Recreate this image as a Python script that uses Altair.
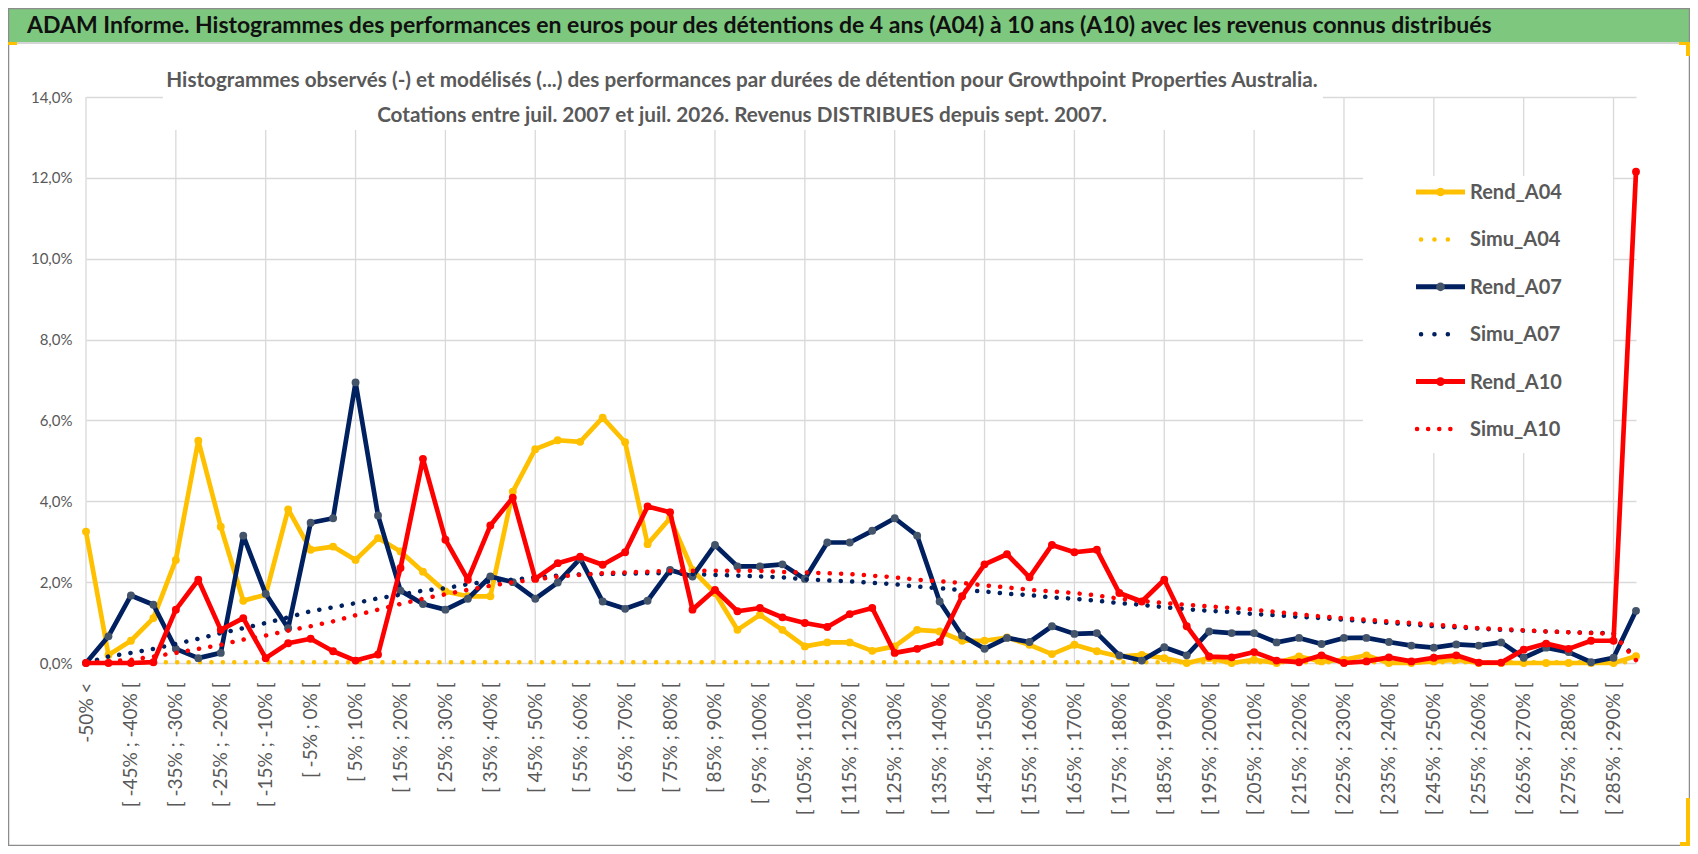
import altair as alt
import pandas as pd

FONT = "Lato"

TITLE = ("ADAM Informe. Histogrammes des performances en euros pour des détentions de 4 ans (A04) "
         "à 10 ans (A10) avec les revenus connus distribués")
SUBTITLE = [
    "Histogrammes observés (-) et modélisés (...) des performances par durées de détention pour Growthpoint Properties Australia.",
    "Cotations entre juil. 2007 et juil. 2026. Revenus DISTRIBUES depuis sept. 2007.",
]

categories = [
    "-50% <",
    "[ -50% ; -45% [", "[ -45% ; -40% [", "[ -40% ; -35% [", "[ -35% ; -30% [",
    "[ -30% ; -25% [", "[ -25% ; -20% [", "[ -20% ; -15% [", "[ -15% ; -10% [",
    "[ -10% ; -5% [", "[ -5% ; 0% [", "[ 0% ; 5% [", "[ 5% ; 10% [",
    "[ 10% ; 15% [", "[ 15% ; 20% [", "[ 20% ; 25% [", "[ 25% ; 30% [",
    "[ 30% ; 35% [", "[ 35% ; 40% [", "[ 40% ; 45% [", "[ 45% ; 50% [",
    "[ 50% ; 55% [", "[ 55% ; 60% [", "[ 60% ; 65% [", "[ 65% ; 70% [",
    "[ 70% ; 75% [", "[ 75% ; 80% [", "[ 80% ; 85% [", "[ 85% ; 90% [",
    "[ 90% ; 95% [", "[ 95% ; 100% [", "[ 100% ; 105% [", "[ 105% ; 110% [",
    "[ 110% ; 115% [", "[ 115% ; 120% [", "[ 120% ; 125% [", "[ 125% ; 130% [",
    "[ 130% ; 135% [", "[ 135% ; 140% [", "[ 140% ; 145% [", "[ 145% ; 150% [",
    "[ 150% ; 155% [", "[ 155% ; 160% [", "[ 160% ; 165% [", "[ 165% ; 170% [",
    "[ 170% ; 175% [", "[ 175% ; 180% [", "[ 180% ; 185% [", "[ 185% ; 190% [",
    "[ 190% ; 195% [", "[ 195% ; 200% [", "[ 200% ; 205% [", "[ 205% ; 210% [",
    "[ 210% ; 215% [", "[ 215% ; 220% [", "[ 220% ; 225% [", "[ 225% ; 230% [",
    "[ 230% ; 235% [", "[ 235% ; 240% [", "[ 240% ; 245% [", "[ 245% ; 250% [",
    "[ 250% ; 255% [", "[ 255% ; 260% [", "[ 260% ; 265% [", "[ 265% ; 270% [",
    "[ 270% ; 275% [", "[ 275% ; 280% [", "[ 280% ; 285% [", "[ 285% ; 290% [",
    "> 290%",
]

rend_a04 = [3.25, 0.20, 0.55, 1.11, 2.55, 5.50, 3.37, 1.54, 1.69, 3.80,
            2.80, 2.88, 2.55, 3.09, 2.76, 2.26, 1.77, 1.65, 1.65, 4.24,
            5.29, 5.51, 5.47, 6.07, 5.46, 2.94, 3.58, 2.30, 1.73, 0.82,
            1.19, 0.82, 0.41, 0.51, 0.51, 0.30, 0.41, 0.82, 0.78, 0.55,
            0.55, 0.63, 0.45, 0.22, 0.45, 0.29, 0.16, 0.20, 0.12, 0.00,
            0.12, 0.00, 0.08, 0.00, 0.16, 0.04, 0.08, 0.19, 0.00, 0.00,
            0.04, 0.08, 0.00, 0.00, 0.00, 0.00, 0.00, 0.00, 0.00, 0.17]
simu_a04 = [0.02, 0.02, 0.02, 0.02, 0.02, 0.02, 0.02, 0.02, 0.02, 0.02,
            0.02, 0.02, 0.02, 0.02, 0.02, 0.02, 0.02, 0.02, 0.02, 0.02,
            0.02, 0.02, 0.02, 0.02, 0.02, 0.02, 0.02, 0.02, 0.02, 0.02,
            0.02, 0.02, 0.02, 0.02, 0.02, 0.02, 0.02, 0.02, 0.02, 0.02,
            0.02, 0.02, 0.02, 0.02, 0.02, 0.02, 0.02, 0.02, 0.02, 0.02,
            0.02, 0.02, 0.02, 0.02, 0.02, 0.02, 0.02, 0.02, 0.02, 0.02,
            0.02, 0.02, 0.02, 0.02, 0.02, 0.02, 0.02, 0.02, 0.02, 0.02]
rend_a07 = [0.00, 0.66, 1.67, 1.44, 0.35, 0.12, 0.25, 3.15, 1.71, 0.86,
            3.47, 3.58, 6.94, 3.65, 1.79, 1.46, 1.32, 1.59, 2.14, 2.00,
            1.59, 1.99, 2.58, 1.52, 1.34, 1.54, 2.30, 2.14, 2.92, 2.39,
            2.39, 2.44, 2.08, 2.98, 2.98, 3.27, 3.58, 3.15, 1.52, 0.68,
            0.35, 0.62, 0.52, 0.91, 0.72, 0.74, 0.19, 0.06, 0.39, 0.19,
            0.78, 0.74, 0.74, 0.51, 0.62, 0.47, 0.62, 0.62, 0.52, 0.43,
            0.38, 0.46, 0.43, 0.51, 0.13, 0.38, 0.27, 0.02, 0.13, 1.29]
simu_a07 = [0.00, 0.16, 0.25, 0.35, 0.47, 0.60, 0.74, 0.86, 0.99, 1.13,
            1.28, 1.38, 1.48, 1.60, 1.69, 1.79, 1.85, 1.95, 2.02, 2.06,
            2.12, 2.16, 2.19, 2.20, 2.21, 2.22, 2.22, 2.20, 2.18, 2.16,
            2.14, 2.12, 2.07, 2.04, 2.02, 1.98, 1.95, 1.89, 1.85, 1.80,
            1.77, 1.71, 1.68, 1.62, 1.59, 1.54, 1.48, 1.44, 1.38, 1.33,
            1.29, 1.26, 1.21, 1.18, 1.14, 1.11, 1.07, 1.03, 0.99, 0.95,
            0.91, 0.88, 0.85, 0.82, 0.80, 0.78, 0.76, 0.75, 0.74, 0.10]
rend_a10 = [0.00, 0.00, 0.00, 0.02, 1.32, 2.06, 0.82, 1.11, 0.12, 0.49,
            0.60, 0.29, 0.06, 0.21, 2.35, 5.05, 3.05, 2.06, 3.40, 4.09,
            2.08, 2.47, 2.63, 2.43, 2.74, 3.87, 3.73, 1.32, 1.81, 1.28,
            1.36, 1.13, 0.99, 0.89, 1.21, 1.36, 0.25, 0.35, 0.52, 1.65,
            2.44, 2.69, 2.12, 2.92, 2.74, 2.80, 1.73, 1.52, 2.06, 0.91,
            0.16, 0.14, 0.27, 0.06, 0.02, 0.19, 0.00, 0.04, 0.14, 0.04,
            0.13, 0.19, 0.01, 0.01, 0.33, 0.48, 0.35, 0.55, 0.55, 12.15]
simu_a10 = [0.00, 0.04, 0.08, 0.16, 0.25, 0.35, 0.45, 0.58, 0.68, 0.80,
            0.91, 1.03, 1.18, 1.32, 1.46, 1.59, 1.70, 1.81, 1.91, 2.00,
            2.06, 2.14, 2.18, 2.22, 2.24, 2.26, 2.28, 2.28, 2.28, 2.28,
            2.28, 2.25, 2.24, 2.22, 2.20, 2.16, 2.12, 2.06, 2.02, 1.98,
            1.92, 1.87, 1.81, 1.77, 1.73, 1.67, 1.59, 1.54, 1.48, 1.44,
            1.40, 1.36, 1.32, 1.26, 1.21, 1.15, 1.11, 1.07, 1.03, 0.99,
            0.95, 0.91, 0.86, 0.84, 0.81, 0.78, 0.76, 0.74, 0.72, 0.07]

series_names = ["Rend_A04", "Simu_A04", "Rend_A07", "Simu_A07", "Rend_A10", "Simu_A10"]
series_values = [rend_a04, simu_a04, rend_a07, simu_a07, rend_a10, simu_a10]
line_colors = ["#FFC000", "#FFC000", "#002060", "#002060", "#FF0000", "#FF0000"]
marker_colors = ["#FFC000", "#FFC000", "#44546A", "#002060", "#FF0000", "#FF0000"]
y_ticks = [0, 2, 4, 6, 8, 10, 12, 14]

rows = []
for name, vals in zip(series_names, series_values):
    for cat, v in zip(categories, vals):
        rows.append({"cat": cat, "series": name, "value": v})
df = pd.DataFrame(rows)

W, H = 1550, 566
GRID = "#d9d9d9"
TXT = "#595959"

x_enc = alt.X(
    "cat:N", sort=categories,
    scale=alt.Scale(type="point", domain=categories, padding=0),
    axis=alt.Axis(values=categories[0::2], labelAngle=-90, labelAlign="right",
                  labelBaseline="middle", labelPadding=19, ticks=False, tickSize=0,
                  domain=False, grid=False, labelColor=TXT, labelFontSize=19,
                  labelFont=FONT, labelOverlap=False, labelLimit=400, title=None),
)
y_enc = alt.Y(
    "value:Q",
    scale=alt.Scale(domain=[0, 14], nice=False),
    axis=alt.Axis(values=y_ticks, labelExpr="replace(format(datum.value, '.1f'), '.', ',') + '%'",
                  grid=True, gridColor=GRID, gridWidth=1.3, domain=False, ticks=False,
                  tickSize=0, labelPadding=14, labelFontSize=15, labelColor=TXT,
                  labelFont=FONT, title=None),
)

one = pd.DataFrame({"k": [0]})


def box(x1, x2, y1, y2, **kw):
    return alt.Chart(one).mark_rect(**kw).encode(
        x=alt.value(x1), x2=alt.value(x2), y=alt.value(y1), y2=alt.value(y2))


grid_rules = alt.Chart(pd.DataFrame({"cat": categories[0::4]})).mark_rule(
    color=GRID, strokeWidth=1.3).encode(x=x_enc, y=alt.value(0), y2=alt.value(H))

layers = [
    grid_rules,
    box(77, 1237, -40, 33, fill="white"),
    box(1277, 1527, 79, 356, fill="white"),
]

for name, lc, mc in zip(series_names, line_colors, marker_colors):
    base = alt.Chart(df).transform_filter(alt.datum.series == name)
    if name.startswith("Rend"):
        mk = base.mark_line(color=lc, strokeWidth=4.7, strokeJoin="round",
                            point=alt.OverlayMarkDef(filled=True, color=mc, size=62, opacity=1))
    else:
        mk = base.mark_line(color=lc, strokeWidth=4.5, strokeDash=[0.1, 11.3],
                            strokeCap="round")
    layers.append(mk.encode(x=x_enc, y=y_enc))

# banner, frame and titles
layers += [
    box(-78, 1604, -89, -55, fill="#7DC87E"),
    box(-78, 1604, -55, -53, fill="#d4d4d4"),
    box(-77.5, 1603.5, -88.5, 748.5, fill="white", fillOpacity=0, stroke="#8c8c8c",
        strokeWidth=1.5),
    box(-78, -69, -55, -52, fill="#FFC000"),
    box(1593, 1604, -55, -52, fill="#FFC000"),
    box(1600, 1604, -55, -41, fill="#FFC000"),
    box(1600, 1604, 701, 749, fill="#FFC000"),
    box(1594, 1604, 745, 749, fill="#FFC000"),
    alt.Chart(one).mark_text(align="left", baseline="alphabetic", font=FONT, fontSize=23,
                             fontWeight="bold", color="#111111").encode(
        x=alt.value(-59), y=alt.value(-64), text=alt.value(TITLE)),
    alt.Chart(one).mark_text(align="center", baseline="alphabetic", font=FONT, fontSize=20.7,
                             fontWeight="bold", color=TXT, lineHeight=35).encode(
        x=alt.value(656), y=alt.value(-10), text=alt.value(SUBTITLE)),
]
main = alt.layer(*layers)

# custom legend
leg_df = pd.DataFrame({"series": series_names})
ly = alt.Y("series:N", sort=series_names,
           scale=alt.Scale(type="point", domain=series_names, range=[95, 332], padding=0),
           axis=None)
col = alt.Color("series:N", scale=alt.Scale(domain=series_names, range=line_colors), legend=None)
mfill = alt.Fill("series:N", scale=alt.Scale(domain=series_names, range=marker_colors), legend=None)
leg = alt.Chart(leg_df)
is_rend = "indexof(datum.series, 'Rend') === 0"

legend = alt.layer(
    leg.transform_filter(is_rend).mark_rule(strokeWidth=5).encode(
        x=alt.value(1330), x2=alt.value(1379), y=ly, color=col),
    leg.transform_filter(is_rend).mark_circle(size=75, opacity=1).encode(
        x=alt.value(1354.5), y=ly, fill=mfill),
    leg.transform_filter("datum.series === 'Simu_A10'").mark_rule(
        strokeWidth=4.5, strokeDash=[0.1, 11], strokeCap="round").encode(
        x=alt.value(1331), x2=alt.value(1375), y=ly, color=col),
    leg.transform_filter("datum.series === 'Simu_A04' || datum.series === 'Simu_A07'").mark_rule(
        strokeWidth=4.5, strokeDash=[0.1, 13.3], strokeCap="round").encode(
        x=alt.value(1335), x2=alt.value(1375), y=ly, color=col),
    leg.mark_text(align="left", baseline="middle", font=FONT, fontSize=20, fontWeight="bold",
                  color=TXT, dy=1).encode(x=alt.value(1384), y=ly, text="series:N"),
)

chart = alt.layer(main, legend).resolve_scale(y="independent").properties(
    width=W, height=H,
    autosize=alt.AutoSizeParams(type="none"),
    padding={"left": 78, "top": 89, "right": 54, "bottom": 183},
    background="white",
).configure_view(stroke="transparent")

chart.save("out.html", embed_options={"renderer": "svg", "actions": False})
